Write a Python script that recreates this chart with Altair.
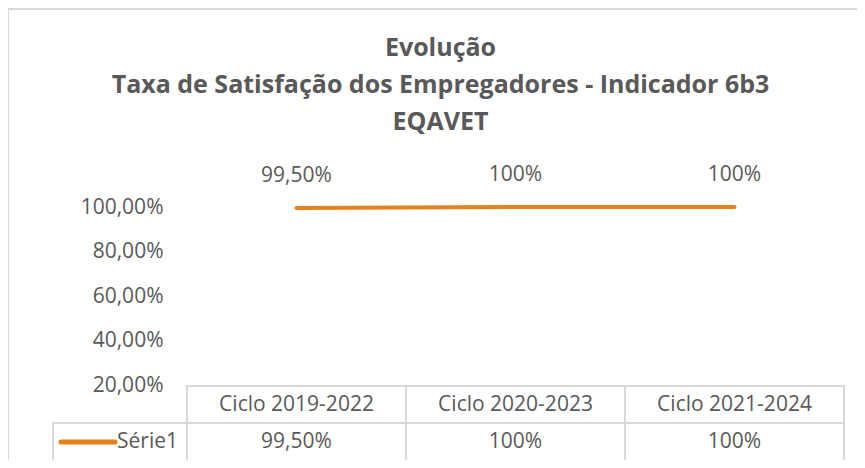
import altair as alt
import pandas as pd

categories = ["Ciclo 2019-2022", "Ciclo 2020-2023", "Ciclo 2021-2024"]
values = [0.995, 1.0, 1.0]
labels = ["99,50%", "100%", "100%"]
series_name = "Série1"
y_ticks = [0.2, 0.4, 0.6, 0.8, 1.0]
title_lines = ["Evolução", "Taxa de Satisfação dos Empregadores - Indicador 6b3", "EQAVET"]

df = pd.DataFrame({"cat": categories, "val": values, "lab": labels})
legend_df = pd.DataFrame({"serie": [series_name]})

ORANGE = "#E6821B"
GRAY_TXT = "#595959"
BORDER = "#D9D9D9"
FONT = "Open Sans"
FS = 21

x_enc = alt.X("cat:N", sort=categories, axis=None,
              scale=alt.Scale(paddingInner=0, paddingOuter=0))

base = alt.Chart(df)

line = base.mark_line(color=ORANGE, strokeWidth=4, strokeCap="round").encode(
    x=x_enc,
    y=alt.Y("val:Q",
            scale=alt.Scale(domain=[0.2, 1.0], nice=False, zero=False),
            axis=alt.Axis(values=y_ticks, title=None, grid=False, ticks=False, domain=False,
                          labelExpr="replace(format(datum.value, '.2%'), '.', ',')",
                          labelFont=FONT, labelFontSize=FS, labelColor=GRAY_TXT,
                          labelPadding=24, labelFlush=False)),
)

data_labels = base.mark_text(font=FONT, fontSize=FS, color=GRAY_TXT, dy=-32).encode(
    x=x_enc, y="val:Q", text="lab:N"
)

# data table below the plot
cells_row1 = base.mark_rect(fill=None, stroke=BORDER, strokeWidth=2, clip=False).encode(
    x=x_enc, y=alt.value(179), y2=alt.value(216)
)
cells_row2 = base.mark_rect(fill=None, stroke=BORDER, strokeWidth=2, clip=False).encode(
    x=x_enc, y=alt.value(216), y2=alt.value(254)
)
head_text = base.mark_text(font=FONT, fontSize=FS, color=GRAY_TXT, clip=False).encode(
    x=x_enc, y=alt.value(198), text="cat:N"
)
val_text = base.mark_text(font=FONT, fontSize=FS, color=GRAY_TXT, clip=False).encode(
    x=x_enc, y=alt.value(235), text="lab:N"
)

leg = alt.Chart(legend_df)
leg_cell = leg.mark_rect(fill=None, stroke=BORDER, strokeWidth=2, clip=False).encode(
    x=alt.value(-134), x2=alt.value(0), y=alt.value(216), y2=alt.value(254)
)
leg_line = leg.mark_rule(color=ORANGE, strokeWidth=5, strokeCap="round", clip=False).encode(
    x=alt.value(-126), x2=alt.value(-72), y=alt.value(235)
)
leg_text = leg.mark_text(font=FONT, fontSize=FS, color=GRAY_TXT, align="right", clip=False).encode(
    x=alt.value(-9), y=alt.value(235), text="serie:N"
)

# chart frame (top & left edges)
frame_top = leg.mark_rule(color=BORDER, strokeWidth=2, clip=False).encode(
    x=alt.value(-179), x2=alt.value(680), y=alt.value(-198)
)
frame_left = leg.mark_rule(color=BORDER, strokeWidth=2, clip=False).encode(
    x=alt.value(-179), y=alt.value(-198), y2=alt.value(270)
)

chart = alt.layer(
    frame_top, frame_left, cells_row1, cells_row2, leg_cell, line, data_labels,
    head_text, val_text, leg_line, leg_text
).properties(
    width=657, height=178,
    padding={"left": 179, "top": 199, "right": 13, "bottom": 75},
    autosize=alt.AutoSizeParams(type="none"),
    background="white",
    title=alt.TitleParams(text=title_lines, font=FONT, fontSize=25, fontWeight="bold",
                          color=GRAY_TXT, anchor="middle", dx=-75, lineHeight=37, offset=-127),
).configure_view(stroke=None)

chart.save("out.html", embed_options={"renderer": "svg", "actions": False})
